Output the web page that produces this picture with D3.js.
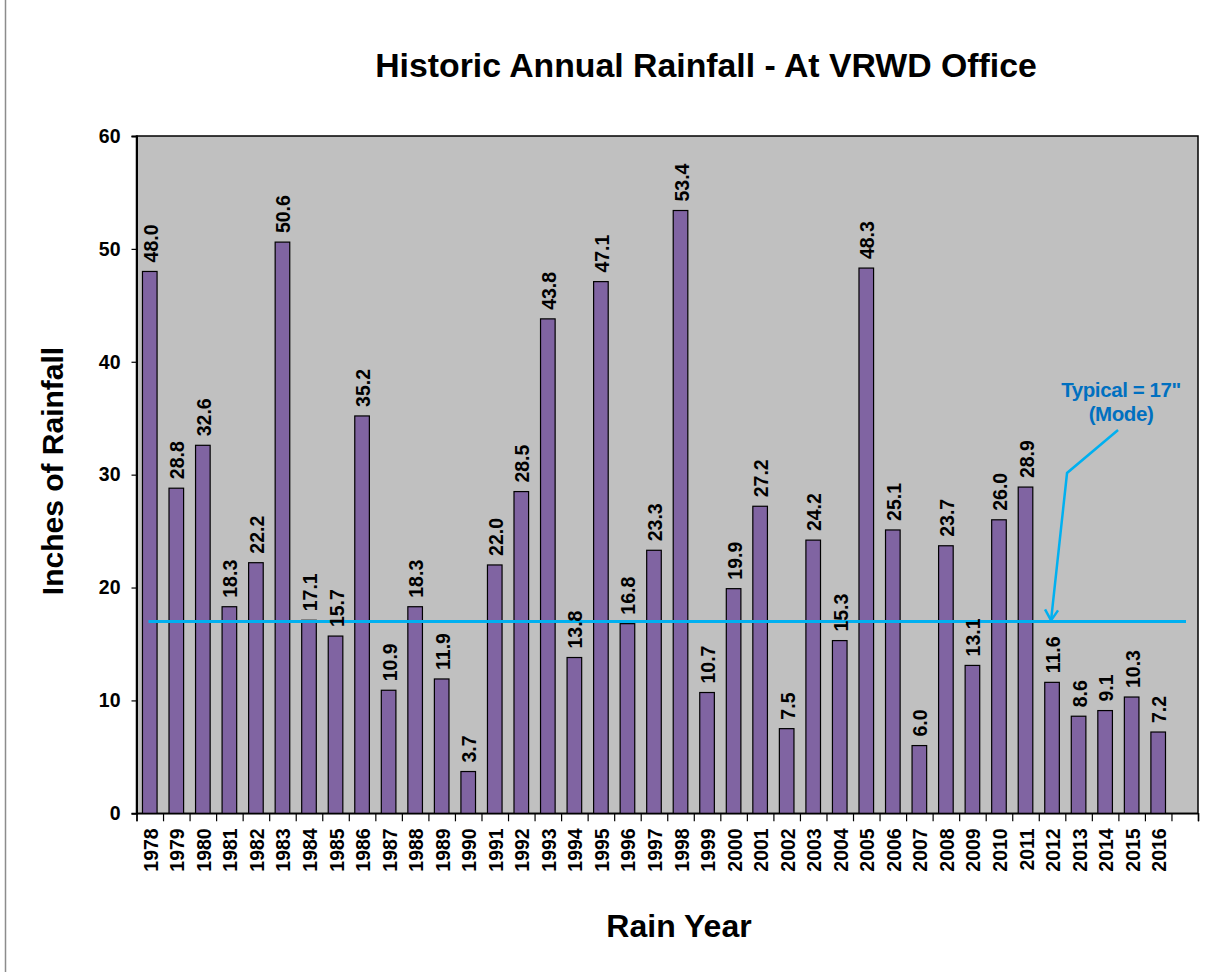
<!DOCTYPE html>
<html>
<head>
<meta charset="utf-8">
<script src="https://cdn.jsdelivr.net/npm/d3@7"></script>
<style>
  body { margin: 0; background: #fff; }
  svg { display: block; font-family: "Liberation Sans", Arial, sans-serif; }
</style>
</head>
<body>
<div id="chart"></div>
<script>
// rain years on the x axis (one blank slot after the last year)
const years = ["1978", "1979", "1980", "1981", "1982", "1983", "1984", "1985", "1986", "1987",
  "1988", "1989", "1990", "1991", "1992", "1993", "1994", "1995", "1996", "1997",
  "1998", "1999", "2000", "2001", "2002", "2003", "2004", "2005", "2006", "2007",
  "2008", "2009", "2010", "2011", "2012", "2013", "2014", "2015", "2016"];
const blankSlots = [""];

// inches of rainfall per year
const rainfall = [48.0, 28.8, 32.6, 18.3, 22.2, 50.6, 17.1, 15.7, 35.2, 10.9,
  18.3, 11.9, 3.7, 22.0, 28.5, 43.8, 13.8, 47.1, 16.8, 23.3,
  53.4, 10.7, 19.9, 27.2, 7.5, 24.2, 15.3, 48.3, 25.1, 6.0,
  23.7, 13.1, 26.0, 28.9, 11.6, 8.6, 9.1, 10.3, 7.2];

const yTicks = [0, 10, 20, 30, 40, 50, 60];
const modeValue = 17;
const modeYear = "2012"; // where the callout arrow points
const calloutLines = ["Typical = 17\"", "(Mode)"];

const width = 1217, height = 972;
const plot = { left: 136.5, right: 1198, top: 136, bottom: 813.3 };

const svg = d3.select("#chart")
  .append("svg")
  .attr("width", width)
  .attr("height", height);

// thin frame line on the left edge
svg.append("line")
  .attr("x1", 5.5).attr("x2", 5.5)
  .attr("y1", 0).attr("y2", height)
  .attr("stroke", "#8c8c8c")
  .attr("stroke-width", 1.5);

const slots = years.concat(blankSlots);

const xScale = d3.scaleBand()
  .domain(slots)
  .range([plot.left, plot.right])
  .paddingInner(0.45)
  .paddingOuter(0.225);

// category boundaries for the tick marks
const xEdge = d3.scaleLinear()
  .domain([0, slots.length])
  .range([plot.left, plot.right]);

const yScale = d3.scaleLinear()
  .domain([0, 60])
  .range([plot.bottom, plot.top]);

// plot area
svg.append("rect")
  .attr("x", plot.left)
  .attr("y", plot.top)
  .attr("width", plot.right - plot.left)
  .attr("height", plot.bottom - plot.top)
  .attr("fill", "#c0c0c0")
  .attr("stroke", "#000")
  .attr("stroke-width", 1.5);

// bars
svg.append("g")
  .selectAll("rect")
  .data(rainfall)
  .join("rect")
  .attr("x", (d, i) => xScale(years[i]))
  .attr("y", (d) => yScale(d))
  .attr("width", xScale.bandwidth())
  .attr("height", (d) => yScale(0) - yScale(d))
  .attr("fill", "#8064a2")
  .attr("stroke", "#000")
  .attr("stroke-width", 1.2);

// typical (mode) line
svg.append("line")
  .attr("x1", plot.left + 12)
  .attr("x2", plot.right - 12)
  .attr("y1", yScale(modeValue))
  .attr("y2", yScale(modeValue))
  .attr("stroke", "#00b0f0")
  .attr("stroke-width", 3);

// value labels, rotated above each bar
svg.append("g")
  .selectAll("text")
  .data(rainfall)
  .join("text")
  .attr("transform", (d, i) => {
    const cx = xScale(years[i]) + xScale.bandwidth() / 2 + 1;
    return `translate(${cx},${yScale(d) - 9}) rotate(-90)`;
  })
  .attr("dy", "0.36em")
  .attr("text-anchor", "start")
  .attr("font-size", 19.5)
  .attr("font-weight", "bold")
  .attr("fill", "#000")
  .text((d) => d.toFixed(1));

// y axis
const yAxis = svg.append("g")
  .attr("transform", `translate(${plot.left},0)`)
  .call(d3.axisLeft(yScale).tickValues(yTicks).tickSize(5).tickPadding(11));
yAxis.select(".domain").attr("stroke-width", 2);
yAxis.selectAll(".tick line").attr("stroke-width", 1.2);
yAxis.selectAll("text")
  .attr("font-size", 19.5)
  .attr("font-weight", "bold")
  .attr("font-family", "Liberation Sans, Arial, sans-serif")
  .attr("fill", "#000");

// x axis tick marks at category boundaries
const xTickAxis = svg.append("g")
  .attr("transform", `translate(0,${plot.bottom})`)
  .call(d3.axisBottom(xEdge).tickValues(d3.range(slots.length + 1)).tickSize(8).tickFormat(""));
xTickAxis.select(".domain").attr("stroke-width", 1.5);
xTickAxis.selectAll(".tick line").attr("stroke-width", 1.2);

// x axis year labels
const xLabelAxis = svg.append("g")
  .attr("transform", `translate(0,${plot.bottom})`)
  .call(d3.axisBottom(xScale).tickSize(0).tickPadding(0));
xLabelAxis.select(".domain").remove();
xLabelAxis.selectAll("text")
  .attr("transform", "translate(1,15) rotate(-90)")
  .attr("x", 0)
  .attr("y", 0)
  .attr("dy", "0.36em")
  .attr("text-anchor", "end")
  .attr("font-size", 19.5)
  .attr("font-weight", "bold")
  .attr("font-family", "Liberation Sans, Arial, sans-serif")
  .attr("fill", "#000");

// callout arrow pointing at the mode line
const tipX = xScale(modeYear) + xScale.bandwidth() / 2 - 1;
const tipY = yScale(modeValue) - 1;
const calloutPath = [
  [tipX + 67, 430],
  [tipX + 16, 473],
  [tipX, tipY]
];
svg.append("path")
  .attr("d", d3.line()(calloutPath))
  .attr("fill", "none")
  .attr("stroke", "#00b0f0")
  .attr("stroke-width", 2.5);
svg.append("path")
  .attr("d", d3.line()([[tipX - 6, tipY - 11], [tipX, tipY], [tipX + 7, tipY - 10]]))
  .attr("fill", "none")
  .attr("stroke", "#00b0f0")
  .attr("stroke-width", 2.5);

svg.append("g")
  .selectAll("text")
  .data(calloutLines)
  .join("text")
  .attr("x", tipX + 70)
  .attr("y", (d, i) => 397 + i * 24)
  .attr("text-anchor", "middle")
  .attr("font-size", 20.5)
  .attr("font-weight", "bold")
  .attr("letter-spacing", -0.4)
  .attr("fill", "#0070c0")
  .text((d) => d);

// titles
svg.append("text")
  .attr("x", 706)
  .attr("y", 77)
  .attr("text-anchor", "middle")
  .attr("font-size", 33.8)
  .attr("font-weight", "bold")
  .text("Historic Annual Rainfall - At VRWD Office");

svg.append("text")
  .attr("x", 679)
  .attr("y", 937)
  .attr("text-anchor", "middle")
  .attr("font-size", 32)
  .attr("font-weight", "bold")
  .text("Rain Year");

svg.append("text")
  .attr("transform", "translate(63,471) rotate(-90)")
  .attr("text-anchor", "middle")
  .attr("font-size", 30)
  .attr("font-weight", "bold")
  .text("Inches of Rainfall");
</script>
</body>
</html>
